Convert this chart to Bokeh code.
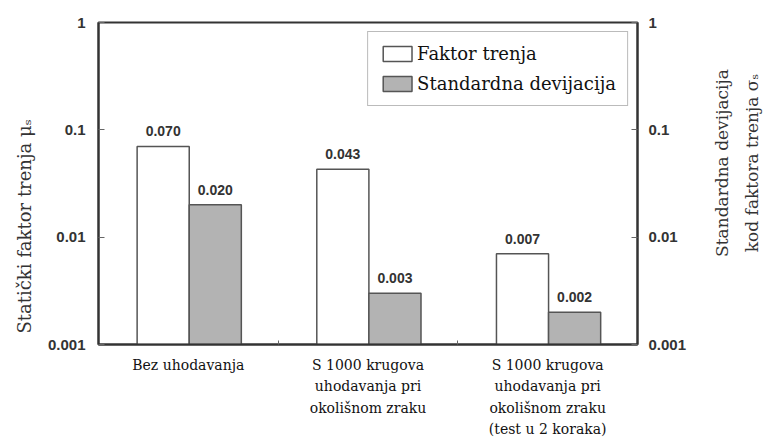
import math
from bokeh.plotting import figure
from bokeh.layouts import row
from bokeh.models import (ColumnDataSource, FixedTicker, LogAxis, Legend, LegendItem, Range1d)
from bokeh.core.properties import value
from bokeh.embed import file_html
from bokeh.resources import INLINE

categories = ["Bez uhodavanja",
              "S 1000 krugova\nuhodavanja pri\nokolišnom zraku",
              "S 1000 krugova\nuhodavanja pri\nokolišnom zraku\n(test u 2 koraka)"]
faktor_trenja = [0.070, 0.043, 0.007]
std_devijacija = [0.020, 0.003, 0.002]
faktor_labels = ["0.070", "0.043", "0.007"]
std_labels = ["0.020", "0.003", "0.002"]
y_ticks = [0.001, 0.01, 0.1, 1]
y_tick_labels = ["0.001", "0.01", "0.1", "1"]
left_title = "Statički faktor trenja μₛ"
right_title = "Standardna devijacija\nkod faktora trenja σₛ"

SANS = "Liberation Sans"
SERIF = "DejaVu Serif"

centers = [i + 0.5 for i in range(len(categories))]
src1 = ColumnDataSource(dict(x=[c - 0.14 for c in centers], top=faktor_trenja, lbl=faktor_labels))
src2 = ColumnDataSource(dict(x=[c + 0.15 for c in centers], top=std_devijacija, lbl=std_labels))

p = figure(width=700, height=440, y_axis_type="log", output_backend="svg",
           toolbar_location=None, x_range=Range1d(0, 3), y_range=Range1d(0.001, 1),
           min_border_left=98, min_border_right=63, min_border_top=22, min_border_bottom=90)
p.xgrid.visible = False
p.ygrid.visible = False
p.outline_line_color = "#333333"
p.outline_line_width = 2
p.background_fill_color = "white"
p.border_fill_color = "white"

r1 = p.vbar(x="x", top="top", bottom=0.001, width=0.29, source=src1,
            fill_color="white", line_color="#555555", line_width=1.5)
r2 = p.vbar(x="x", top="top", bottom=0.001, width=0.29, source=src2,
            fill_color="#b3b3b3", line_color="#555555", line_width=1.5)

for s in (src1, src2):
    p.text(x="x", y="top", text="lbl", source=s, y_offset=-10,
           text_align="center", text_baseline="bottom",
           text_font=value(SANS), text_font_style="bold",
           text_font_size="14px", text_color="#333333")

# x axis
xa = p.xaxis[0]
xa.ticker = FixedTicker(ticks=centers, minor_ticks=[1, 2])
xa.major_label_overrides = {c: lab for c, lab in zip(centers, categories)}
xa.major_tick_in = 0
xa.major_tick_out = 0
xa.minor_tick_in = 4
xa.minor_tick_out = 0
xa.major_label_standoff = 12
xa.major_label_text_font = SERIF
xa.major_label_text_font_size = "14px"
xa.major_label_text_line_height = 1.35
xa.major_label_text_color = "#111111"
xa.axis_line_color = "#333333"
xa.axis_line_width = 2
xa.minor_tick_line_color = "#666666"

def style_y(ax):
    ax.ticker = FixedTicker(ticks=y_ticks, minor_ticks=[])
    ax.major_label_overrides = {t: l for t, l in zip(y_ticks, y_tick_labels)}
    ax.major_tick_in = 6
    ax.major_tick_out = 0
    ax.minor_tick_in = 0
    ax.minor_tick_out = 0
    ax.major_label_standoff = 13
    ax.major_label_text_font = SANS
    ax.major_label_text_font_style = "bold"
    ax.major_label_text_font_size = "15px"
    ax.major_label_text_color = "#333333"
    ax.axis_line_color = "#333333"
    ax.axis_line_width = 2
    ax.major_tick_line_color = "#666666"
    ax.axis_label_text_font = SERIF
    ax.axis_label_text_font_style = "normal"
    ax.axis_label_text_font_size = "18px"
    ax.axis_label_text_color = "#333333"

ya = p.yaxis[0]
style_y(ya)
ya.axis_label = left_title + "\u00a0" * 15
ya.axis_label_standoff = 10

yr = LogAxis()
style_y(yr)
yr.major_label_standoff = 11
p.add_layout(yr, "right")

legend = Legend(items=[LegendItem(label="Faktor trenja", renderers=[r1]),
                       LegendItem(label="Standardna devijacija", renderers=[r2])],
                location="top_right")
legend.margin = 9
legend.padding = 11
legend.spacing = 9
legend.glyph_width = 36
legend.glyph_height = 19
legend.label_standoff = 2
legend.label_text_font = SERIF
legend.label_text_font_size = "18px"
legend.label_text_color = "#111111"
legend.border_line_color = "#777777"
legend.border_line_width = 1.5
legend.background_fill_alpha = 1
p.add_layout(legend, "center")

# side panel carrying the right-hand axis title (reads bottom-to-top)
t = figure(width=64, height=440, output_backend="svg", toolbar_location=None,
           x_range=Range1d(0, 64), y_range=Range1d(0, 440),
           min_border_left=0, min_border_right=0, min_border_top=0, min_border_bottom=0)
t.axis.visible = False
t.grid.visible = False
t.outline_line_color = None
t.border_fill_color = "white"
t.background_fill_color = "white"
t.text(x=[36], y=[248], text=[right_title], angle=math.pi / 2,
       text_align="center", text_baseline="middle",
       text_font=value(SERIF), text_font_size="17px", text_color="#333333",
       text_line_height=1.5)

layout = row(p, t, spacing=0)
open("out.html", "w").write(file_html(layout, INLINE))
